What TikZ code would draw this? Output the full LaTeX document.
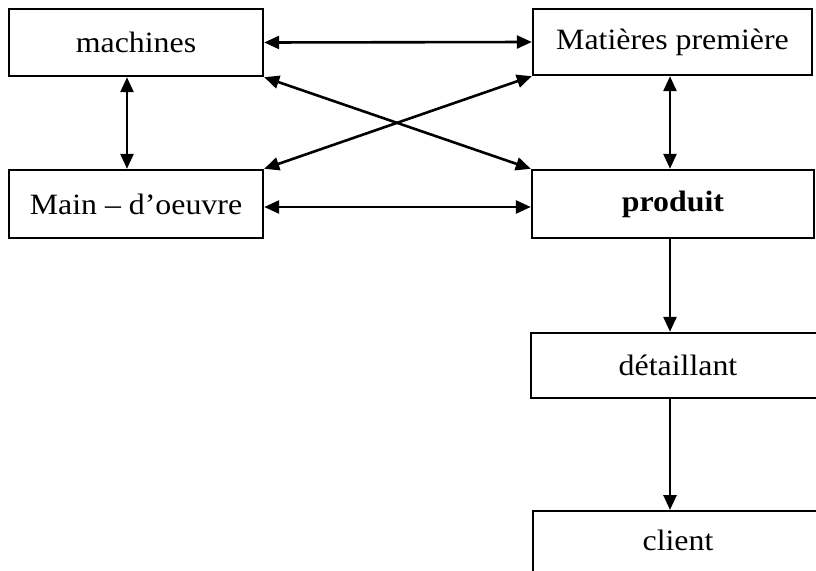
\documentclass[tikz,border=0pt]{standalone}
\usepackage{fontspec}
\setmainfont{Liberation Serif}[FakeStretch=1.08]
\usetikzlibrary{arrows.meta}
\begin{document}
\begin{tikzpicture}[x=1pt,y=-1pt,
  box/.style={draw, line width=2.4pt, inner sep=0pt, font=\fontsize{29.5}{33}\selectfont},
  link/.style={line width=2.6pt, {Triangle[length=15pt,width=13pt]}-{Triangle[length=15pt,width=13pt]}},
  flow/.style={line width=2.6pt, -{Triangle[length=15pt,width=13pt]}}]
\useasboundingbox (0,0) rectangle (816,570);
\clip (0,0) rectangle (816,570);
% boxes
\node[box, minimum width=254pt, minimum height=67pt] (mach) at (136,42.5) {machines};
\node[box, minimum width=279pt, minimum height=66pt] (mat) at (672.5,42) {Matières première};
\node[box, minimum width=254pt, minimum height=68pt] (main) at (136,204) {Main – d’oeuvre};
\node[box, minimum width=282pt, minimum height=68pt] (prod) at (673,204) {\bfseries produit};
\node[box, minimum width=294pt, minimum height=65pt] (det) at (678,365.5) {détaillant};
\node[box, minimum width=290pt, minimum height=90pt, anchor=north] (cli) at (678,510) {};
\node[font=\fontsize{29.5}{33}\selectfont] (clitxt) at (678,540) {client};
% connectors
\draw[link] (mach.east) -- (mat.west);
\draw[link] ([yshift=-3pt]main.east) -- ([yshift=-3pt]prod.west);
\draw[link] (mach.south east) -- (prod.north west);
\draw[link] (mat.south west) -- (main.north east);
\draw[link] ([xshift=-9pt]mach.south) -- ([xshift=-9pt]main.north);
\draw[link] ([xshift=-2.5pt]mat.south) -- ([xshift=-3pt]prod.north);
\draw[flow] ([xshift=-3pt]prod.south) -- ([xshift=-8pt]det.north);
\draw[flow] ([xshift=-8pt]det.south) -- ([xshift=-8pt]cli.north);
\end{tikzpicture}
\end{document}
